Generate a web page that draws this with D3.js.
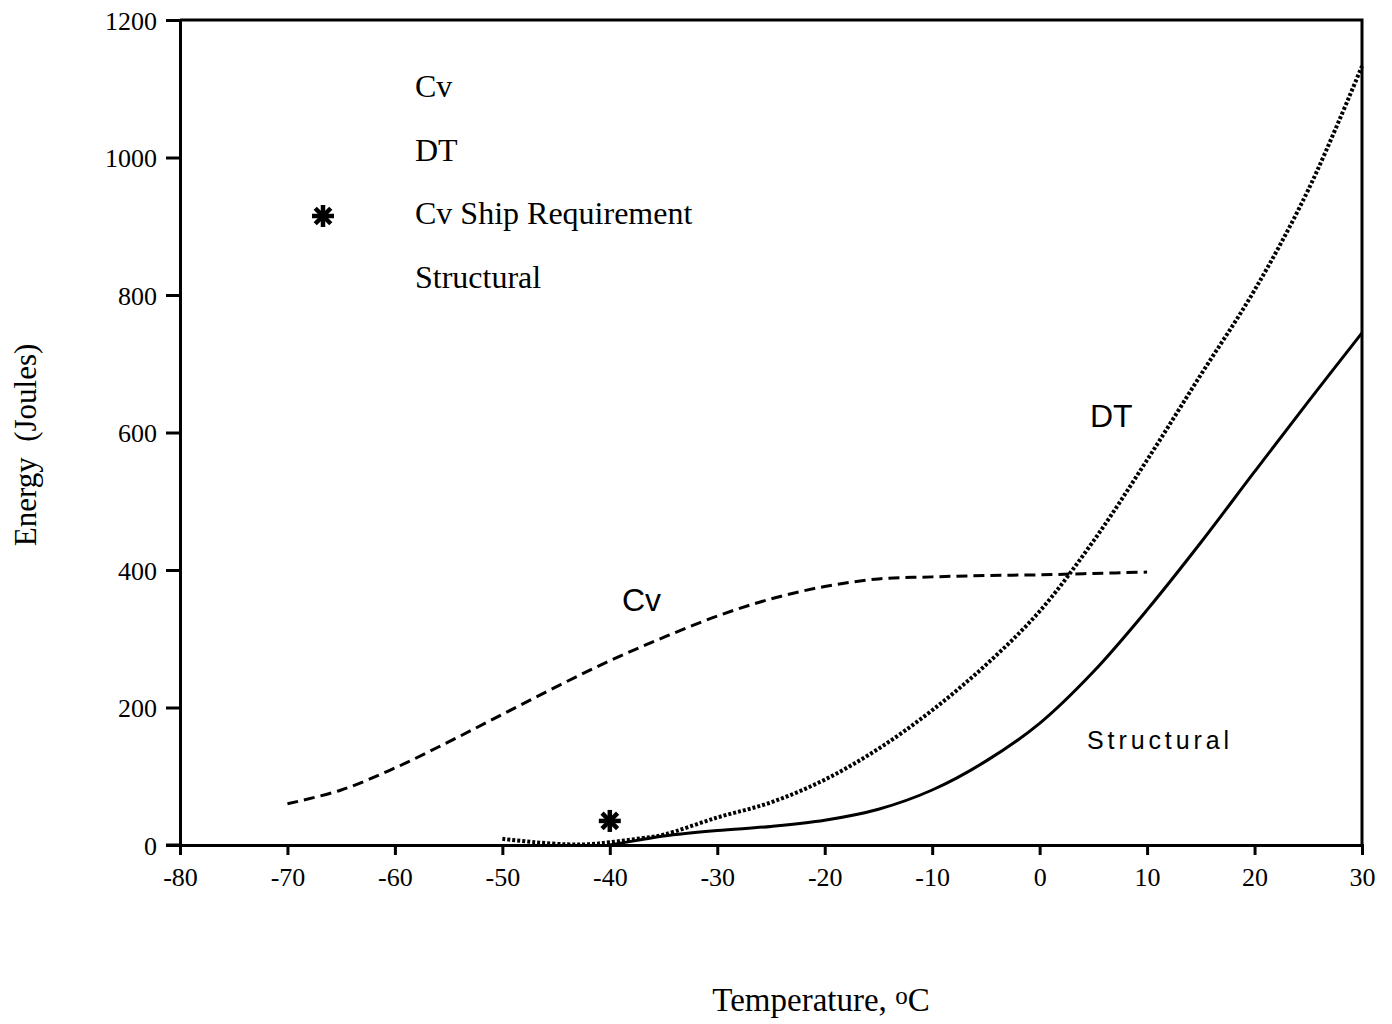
<!DOCTYPE html>
<html><head><meta charset="utf-8">
<script src="https://cdn.jsdelivr.net/npm/d3@7"></script>
<style>body{margin:0;background:#fff}svg{display:block}</style>
</head><body><svg id="c" width="1392" height="1024"></svg>
<script>
const xTicks = [-80,-70,-60,-50,-40,-30,-20,-10,0,10,20,30];
const yTicks = [0,200,400,600,800,1000,1200];
const cvT =  [-70,-65,-60,-55,-50,-45,-40,-35,-30,-25,-20,-15,-10,-5,0,5,10];
const cvE =  [60,80,112,150,190,230,268,302,333,358,376,387,390,392,393,395,397];
const dtT =  [-50,-47,-44,-42,-40,-37,-35,-30,-25,-20,-15,-10,-5,0,5,10,15,20,25,30];
const dtE =  [9,4,1,1,4,10,15,40,62,95,140,196,262,340,442,560,684,807,953,1133];
const stT =  [-40,-37,-35,-30,-25,-20,-15,-10,-5,0,5,10,15,20,25,30];
const stE =  [0,8,13,21,27,36,52,80,122,177,252,342,440,543,645,745];
const reqT = [-40], reqE = [35];
const legendLabels = ["Cv","DT","Cv Ship Requirement","Structural"];

const svg = d3.select("#c");
const m = {l:180, r:1362, t:20, b:845};
const x = d3.scaleLinear().domain([-80,30]).range([m.l,m.r]);
const y = d3.scaleLinear().domain([0,1200]).range([m.b,m.t]);
const serif = "'Liberation Serif','Times New Roman',serif";
const sans = "'Liberation Sans',Arial,sans-serif";

svg.append("path").attr("d",`M${m.l},${m.t}H${m.r}V${m.b}`).attr("fill","none").attr("stroke","#000").attr("stroke-width",3);

const fmt = d => String(d);
const xa = svg.append("g").attr("transform",`translate(0,${m.b})`)
  .call(d3.axisBottom(x).tickValues(xTicks).tickSize(10).tickPadding(8).tickFormat(fmt));
const ya = svg.append("g").attr("transform",`translate(${m.l},0)`)
  .call(d3.axisLeft(y).tickValues(yTicks).tickSize(14).tickPadding(9).tickFormat(fmt));
[xa,ya].forEach(a=>{
  a.select(".domain").attr("stroke-width",3);
  a.selectAll(".tick line").attr("stroke-width",3);
  a.selectAll("text").attr("font-family",serif).attr("font-size",26).attr("fill","#000");
});
ya.selectAll(".tick text").attr("dy","0.35em");
xa.selectAll(".tick text").attr("dy","0.9em");
svg.append("line").attr("x1",m.l-14).attr("x2",m.l).attr("y1",m.b).attr("y2",m.b).attr("stroke","#000").attr("stroke-width",3);

const line = d3.line().x(d=>x(d[0])).y(d=>y(d[1])).curve(d3.curveCatmullRom.alpha(0.5));
svg.append("path").datum(cvT.map((t,i)=>[t,cvE[i]])).attr("d",line)
  .attr("fill","none").attr("stroke","#000").attr("stroke-width",3).attr("stroke-dasharray","11,6");
svg.append("path").datum(dtT.map((t,i)=>[t,dtE[i]])).attr("d",line)
  .attr("fill","none").attr("stroke","#000").attr("stroke-width",4).attr("stroke-dasharray","3,2");
svg.append("path").datum(stT.map((t,i)=>[t,stE[i]])).attr("d",line)
  .attr("fill","none").attr("stroke","#000").attr("stroke-width",3);

function drawStar(cx,cy){
  const g = svg.append("g").attr("transform",`translate(${cx},${cy})`);
  [0,45,90,135].forEach(a=>g.append("line").attr("x1",-11).attr("x2",11).attr("y1",0).attr("y2",0)
    .attr("transform",`rotate(${a})`).attr("stroke","#000").attr("stroke-width",4.5));
}
reqT.forEach((t,i)=>drawStar(x(t),y(reqE[i])));

const lg = svg.append("g");
legendLabels.forEach((s,i)=>{
  lg.append("text").attr("x",415).attr("y",97+i*63.5).text(s)
    .attr("font-family",serif).attr("font-size",32).attr("fill","#000");
});
drawStar(323,216);

svg.append("text").attr("x",1090).attr("y",427).text("DT").attr("font-family",sans).attr("font-size",32);
svg.append("text").attr("x",622).attr("y",611).text("Cv").attr("font-family",sans).attr("font-size",32);
svg.append("text").attr("x",1087).attr("y",749).text("Structural").attr("font-family",sans).attr("font-size",25).attr("letter-spacing",3.9);

const xt = svg.append("text").attr("x",821).attr("y",1011).attr("text-anchor","middle")
  .attr("font-family",serif).attr("font-size",33);
xt.append("tspan").text("Temperature, ");
xt.append("tspan").text("o").attr("font-size",25).attr("dy",-7);
xt.append("tspan").text("C").attr("dy",7);
svg.append("text").attr("transform","translate(36,445) rotate(-90)").attr("text-anchor","middle")
  .attr("font-family",serif).attr("font-size",31).attr("xml:space","preserve").style("white-space","pre").text("Energy  (Joules)");
</script></body></html>
